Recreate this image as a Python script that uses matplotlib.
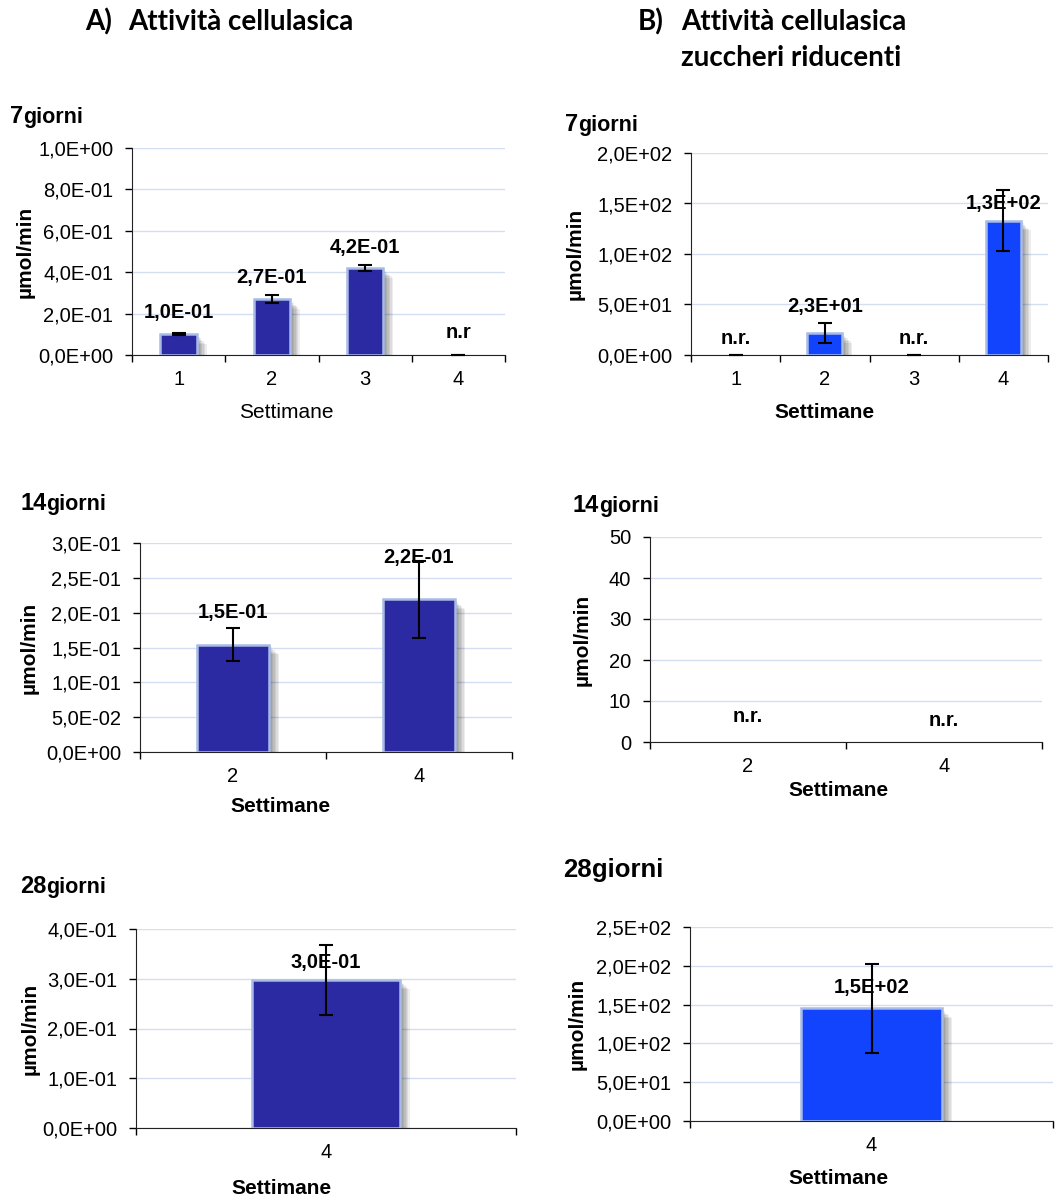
import numpy as np
import matplotlib
matplotlib.use("Agg")
import matplotlib.pyplot as plt
import matplotlib.patheffects as pe

plt.rcParams["font.family"] = ["Liberation Sans", "DejaVu Sans"]

# --- data -------------------------------------------------------------
weeks_a7 = ["1", "2", "3", "4"]
vals_a7 = [0.10, 0.27, 0.42, 0.0]
err_a7 = [0.005, 0.018, 0.013, 0.0]
lab_a7 = ["1,0E-01", "2,7E-01", "4,2E-01", "n.r"]

weeks_b7 = ["1", "2", "3", "4"]
vals_b7 = [0.0, 22.0, 0.0, 133.0]
err_b7 = [0.0, 10.0, 0.0, 30.5]
lab_b7 = ["n.r.", "2,3E+01", "n.r.", "1,3E+02"]

weeks_a14 = ["2", "4"]
vals_a14 = [0.154, 0.219]
err_a14 = [0.0235, 0.055]
lab_a14 = ["1,5E-01", "2,2E-01"]

weeks_b14 = ["2", "4"]
vals_b14 = [0.0, 0.0]
lab_b14 = ["n.r.", "n.r."]

weeks_a28 = ["4"]
vals_a28 = [0.298]
err_a28 = [0.07]
lab_a28 = ["3,0E-01"]

weeks_b28 = ["4"]
vals_b28 = [145.0]
err_b28 = [57.5]
lab_b28 = ["1,5E+02"]

# --- style ------------------------------------------------------------
W, H = 1060, 1199
DARK = "#2b2aa3"
BRIGHT = "#1144fc"
EDGE = "#a7bbe6"
GRID = "#d3def2"

fig = plt.figure(figsize=(W / 100, H / 100), dpi=100)
fig.patch.set_facecolor("white")
renderer = fig.canvas.get_renderer()


def fx(x):
    return x / W


def fy(y):
    return 1 - y / H


def sci_fmt(v, pos=None):
    return f"{v:.1E}".replace(".", ",")


def int_fmt(v, pos=None):
    return f"{v:.0f}"


# soft shadow to the lower right, built from a few faint offset copies
shadow = [pe.SimplePatchShadow(offset=(d, -d), shadow_rgbFace="k", alpha=0.07)
          for d in (1, 2, 3, 4, 5, 6, 7)] + [pe.Normal()]


def panel(box, weeks, vals, errs, labels, color, ymax, ystep, fmt,
          lab_off, ylab_x, xlab_xy, xlab_bold=True):
    l, t, r, b = box
    ax = fig.add_axes([fx(l), fy(b), fx(r - l), (b - t) / H])
    n = len(weeks)
    x = np.arange(n)
    ax.set_xlim(-0.5, n - 0.5)
    ax.set_ylim(0, ymax)

    bars = ax.bar(x, vals, width=0.39, color=color, edgecolor=EDGE,
                  linewidth=1.8, zorder=3)
    for bar, v in zip(bars, vals):
        if v == 0:
            bar.set_visible(False)
        else:
            bar.set_path_effects(shadow)
    if errs is not None:
        ax.errorbar(x, vals, yerr=errs, fmt="none", ecolor="k",
                    elinewidth=1.5, capsize=5, capthick=1.5, zorder=4,
                    clip_on=False)
    for xi, v, s, off in zip(x, vals, labels, lab_off):
        ax.annotate(s, (xi, v), xytext=(0, off), textcoords="offset pixels",
                    ha="center", va="center", fontsize=14.5,
                    fontweight="bold", zorder=5, annotation_clip=False)

    ax.set_yticks(np.arange(0, ymax + ystep / 2, ystep))
    ax.yaxis.set_major_formatter(plt.FuncFormatter(fmt))
    ax.set_xticks(x)
    ax.set_xticklabels(weeks)
    ax.set_xticks(np.arange(-0.5, n), minor=True)
    ax.tick_params(axis="x", which="major", length=0, pad=11, labelsize=14.5)
    ax.tick_params(axis="x", which="minor", length=5, width=1, direction="out")
    ax.tick_params(axis="y", length=5, width=1, pad=8.5, labelsize=14.5)

    ax.yaxis.grid(True, color=GRID, linewidth=1)
    ax.set_axisbelow(True)
    for s in ("top", "right"):
        ax.spines[s].set_visible(False)
    ax.spines["left"].set_color("#222222")
    ax.spines["bottom"].set_color("#222222")

    fig.text(fx(ylab_x), fy((t + b) / 2), "µmol/min", rotation=90,
             ha="center", va="center", fontsize=15, fontweight="bold")
    fig.text(fx(xlab_xy[0]), fy(xlab_xy[1]), "Settimane", ha="center",
             va="center", fontsize=15,
             fontweight="bold" if xlab_bold else "normal")
    return ax


def days_title(x, base_y, num, num_size, word_size):
    t = fig.text(fx(x), fy(base_y), num, fontsize=num_size,
                 fontweight="bold", ha="left", va="baseline")
    x1 = t.get_window_extent(renderer).x1
    fig.text(x1 / W, fy(base_y), "giorni", fontsize=word_size,
             fontweight="bold", ha="left", va="baseline")


# --- headers ----------------------------------------------------------
hfont = dict(family=["Lato", "DejaVu Sans"], fontweight="bold", fontsize=20,
             va="center", ha="left")
fig.text(fx(85), fy(22), "A)", **hfont)
fig.text(fx(128), fy(22), "Attività cellulasica", **hfont)
fig.text(fx(638), fy(22), "B)", **hfont)
fig.text(fx(681), fy(22), "Attività cellulasica", **hfont)
fig.text(fx(681), fy(58), "zuccheri riducenti", **hfont)

# --- panels -----------------------------------------------------------
days_title(10, 123, "7", 17, 15.5)
panel((132, 148, 505, 355), weeks_a7, vals_a7, err_a7, lab_a7, DARK,
      1.0, 0.2, sci_fmt, [22, 22, 21, 22], 25, (286, 413), xlab_bold=False)

days_title(565, 131, "7", 17, 15.5)
panel((691, 153, 1048, 355), weeks_b7, vals_b7, err_b7, lab_b7, BRIGHT,
      200, 50, sci_fmt, [16, 26, 16, 17], 575, (824, 413))

days_title(20, 510, "14", 17, 15.5)
panel((140, 543, 512, 752), weeks_a14, vals_a14, err_a14, lab_a14, DARK,
      0.3, 0.05, sci_fmt, [32, 42], 29, (280, 807))

days_title(573, 512, "14", 17, 15.5)
panel((650, 537, 1042, 742), weeks_b14, vals_b14, None, lab_b14, BRIGHT,
      50, 10, int_fmt, [25, 22], 582, (838, 790))

days_title(20, 893, "28", 17, 15.5)
panel((136, 929, 516, 1128), weeks_a28, vals_a28, err_a28, lab_a28, DARK,
      0.4, 0.1, sci_fmt, [17], 30, (281, 1188))

days_title(563, 877, "28", 18.5, 18.5)
panel((690, 927, 1053, 1121), weeks_b28, vals_b28, err_b28, lab_b28, BRIGHT,
      250, 50, sci_fmt, [21], 577, (838, 1178))

fig.savefig("out.png", dpi=100)
